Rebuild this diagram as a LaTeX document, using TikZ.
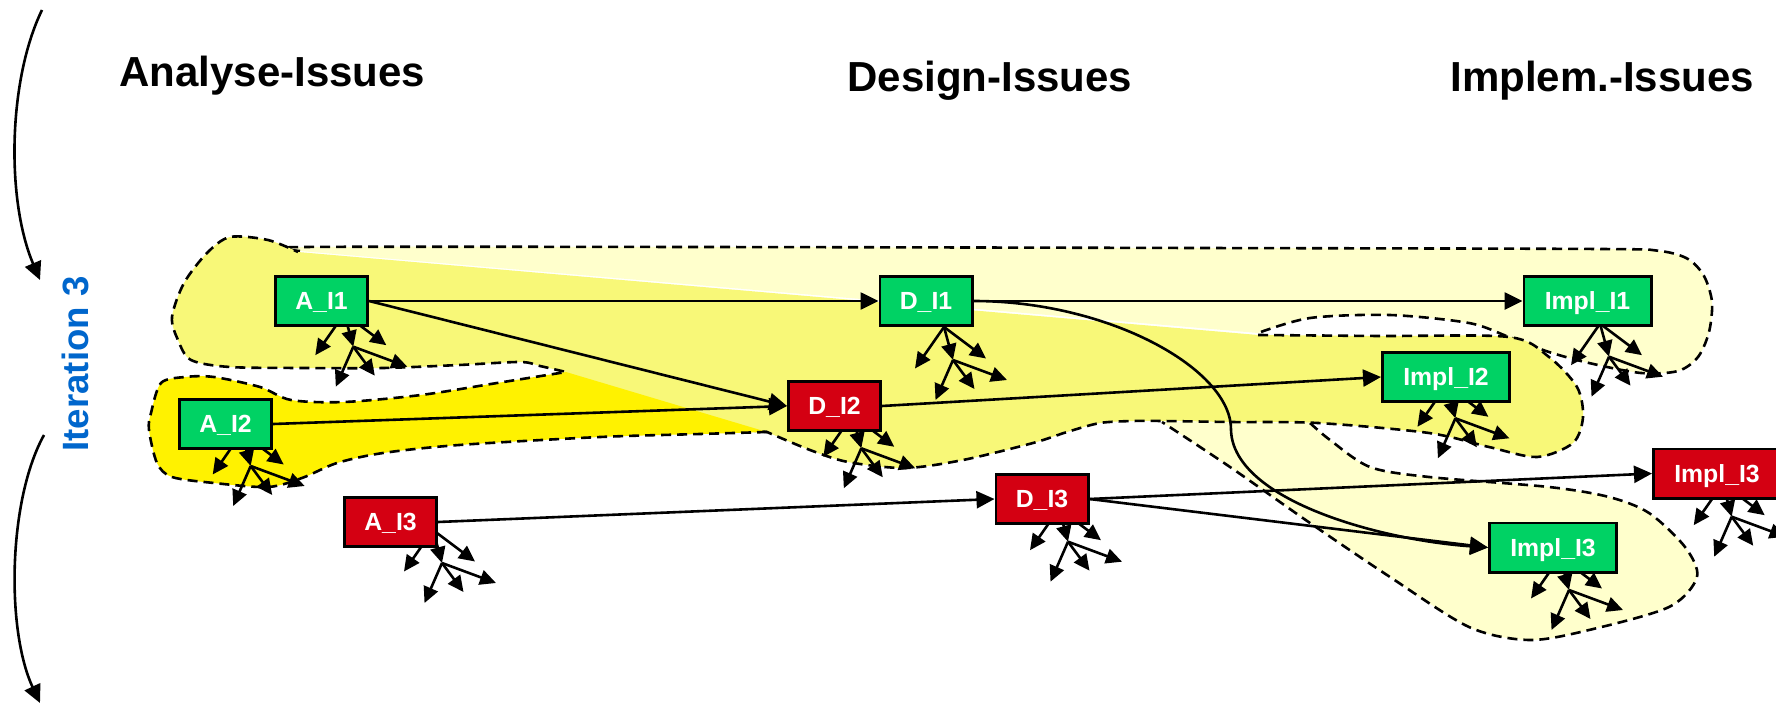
\documentclass[tikz,border=0pt]{standalone}
\usepackage{fontspec}
\setmainfont{Liberation Sans}
\usepackage{tikz}
\usetikzlibrary{arrows.meta,backgrounds}

\definecolor{issuegreen}{HTML}{00D264}
\definecolor{issuered}{HTML}{D40012}
\definecolor{paleyellow}{HTML}{FFFFCC}
\definecolor{midyellow}{HTML}{F8F878}
\definecolor{itblue}{HTML}{0066CC}

\begin{document}
\begin{tikzpicture}[x=0.5pt,y=-0.5pt,
    issue/.style={draw=black, line width=1.3pt, minimum width=46.2pt, minimum height=24.7pt,
      inner sep=0pt, text=white, font=\fontsize{12.4}{14}\selectfont\bfseries,
      text height=8.9pt, text depth=0pt},
    wide/.style={issue, minimum width=63.7pt},
    donebox/.style={fill=issuegreen},
    todobox/.style={fill=issuered},
    header/.style={font=\fontsize{21}{25}\selectfont\bfseries, anchor=base west, inner sep=0pt},
    link/.style={line width=1.3pt, -{Triangle[length=9pt,width=8.5pt]}},
    fanarrow/.style={line width=1.3pt, -{Triangle[length=8pt,width=7.5pt]}},
    zone/.style={draw=black, line width=1.3pt, dash pattern=on 5pt off 3pt},
    pics/issuefan/.style={code={
      % three arrows out of the box, then three more from the hub
      \draw[fanarrow] (-9,-33) -- (-38,8.5);
      \draw[fanarrow] (-9,-33) -- (0,0);
      \draw[fanarrow] (-9,-33) -- (33,-1.5);
      \foreach \dx/\dy in {-17.5/40, 21.5/29, 54/20}
        \draw[fanarrow] (0,0) -- (\dx,\dy);
    }}]
    \useasboundingbox (0,0) rectangle (1776,706);
    \clip (0,0) rectangle (1776,706);

    % column headers
    \node[header] (hdA) at (119,87) {Analyse-Issues};
    \node[header] (hdD) at (847,91) {Design-Issues};
    \node[header] (hdI) at (1450,92) {Implem.-Issues};

    % iteration marker
    \node[rotate=90, text=itblue, font=\fontsize{18.3}{22}\selectfont\bfseries] (iter) at (75,364) {Iteration 3};
    \draw[link] (42,10) .. controls (8,80) and (6,200) .. (40,280);
    \draw[link] (44,435) .. controls (8,500) and (6,630) .. (40,703);

    % issues
    \node[issue, donebox] (a1) at (321.5,301) {A\_I1};
    \node[issue, donebox] (a2) at (225.5,424) {A\_I2};
    \node[issue, todobox] (a3) at (390.5,522) {A\_I3};
    \node[issue, donebox] (d1) at (926,301) {D\_I1};
    \node[issue, todobox] (d2) at (834.5,406) {D\_I2};
    \node[issue, todobox] (d3) at (1042,499) {D\_I3};
    \node[wide, donebox] (i1) at (1587.5,301) {Impl\_I1};
    \node[wide, donebox] (i2) at (1446,377) {Impl\_I2};
    \node[wide, donebox] (i3) at (1553,547.5) {Impl\_I3};
    \node[wide, todobox] (i3r) at (1717,473.5) {Impl\_I3};

    % dependencies
    \draw[link] (a1.east) -- (d1.west);
    \draw[link] (a1.east) -- (d2.west);
    \draw[link] (a2.east) -- (d2.west);
    \draw[link] (a3.east) -- (d3.west);
    \draw[link] (d1.east) -- (i1.west);
    \draw[link] (d1.east) .. controls (1110,301) and (1232,370) .. (1231,430)
                          .. controls (1233,500) and (1380,540) .. (i3.west);
    \draw[link] (d2.east) -- (i2.west);
    \draw[link] (d3.east) -- (i3r.west);
    \draw[link] (d3.east) -- (i3.west);

    \begin{pgfonlayer}{background}
      % iteration 1 zone
      \path[zone, fill=paleyellow] plot[smooth] coordinates {(300,251) (304,247) (700,247)
        (1200,248) (1600,249) (1660,251) (1688,259) (1704,276) (1712,302) (1709,332)
        (1698,357) (1678,371) (1641,373) (1589,363) (1549,352) (1509,337) (1469,323)
        (1390,315) (1310,318) (1258,333)};
      % zone around Impl_I3
      \path[zone, fill=paleyellow] plot[smooth] coordinates {(1310,423) (1330,440) (1370,467)
        (1429,477) (1549,487) (1609,497) (1649,513) (1685,547) (1697,577) (1669,607)
        (1589,630) (1529,640) (1469,627) (1390,577) (1310,523) (1230,467) (1162,422)};
      % iteration 2 zone
      \path[zone, fill=midyellow] plot[smooth] coordinates {(1258,335) (1380,336) (1509,337)
        (1549,357) (1577,387) (1583,417) (1573,443) (1537,457) (1489,447) (1429,433)
        (1318,423) (1230,422) (1163,421) (1133,421) (1100,423) (1067,432) (1033,443)
        (963,460) (905,468) (848,462) (810,450) (767,432)}
        -- (700,425) -- (600,405)
        -- plot[smooth] coordinates {(566,372) (540,366) (520,362) (459,365) (383,368)
        (306,368) (230,367) (191,360) (178,340) (172,317) (184,283) (207,253) (230,237)
        (268,240) (298,252)};
      % zone around A_I2
      \path[zone, fill=yellow] plot[smooth] coordinates {(767,432) (700,434) (600,437)
        (459,445) (383,453) (337,463) (302,478) (268,487) (214,483) (172,477) (157,463)
        (149,430) (151,413) (161,383) (185,377) (214,377) (260,387) (291,400) (344,402)
        (421,395) (497,383) (566,372)};

      % sub-issues under each box
      \foreach \hx/\hy in {353.3/346.7, 250.7/466, 442/563, 953/360, 861.3/448.3,
          1068/541.7, 1609/356.7, 1455.4/418.3, 1569/590, 1731.7/516.7}
        \pic at (\hx,\hy) {issuefan};
    \end{pgfonlayer}
\end{tikzpicture}
\end{document}
